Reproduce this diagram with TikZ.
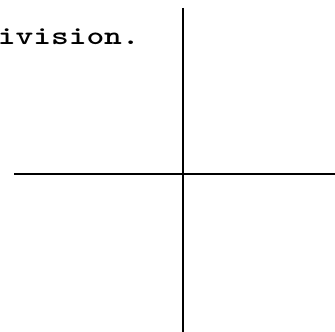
\documentclass[tikz,border=0pt]{standalone}
\usepackage{fontspec}
\usetikzlibrary{positioning}

\begin{document}
\begin{tikzpicture}[x=1pt, y=1pt, axis/.style={black, line width=2pt}]
    \useasboundingbox (0,0) rectangle (335,332);
    \coordinate (top) at (183,324);
    \coordinate (bottom) at (183,0);
    \coordinate (left) at (14,158);
    \coordinate (right) at (335,158);
    \node[anchor=base east, inner sep=0pt, xscale=1.3, transform shape, font=\ttfamily\bfseries\fontsize{26}{30}\selectfont] (caption) at (140,287) {ivision.};
    \draw[axis] (top) -- (bottom);
    \draw[axis] (left) -- (right);
\end{tikzpicture}
\end{document}
